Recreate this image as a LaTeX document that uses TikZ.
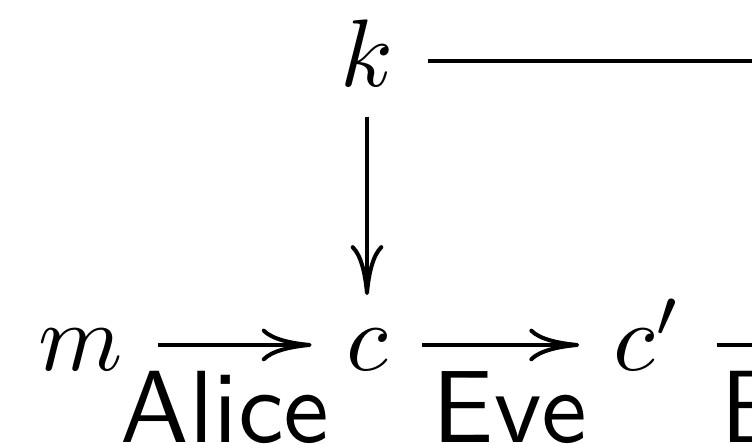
\documentclass[tikz,border=0pt]{standalone}
\usetikzlibrary{arrows.meta}
\tikzset{
  map/.style={line width=0.42pt, -{Computer Modern Rightarrow[length=5.2pt,width=3.4pt]}},
  bar/.style={line width=0.42pt},
  obj/.style={inner xsep=3.4pt, inner ysep=0pt, text height=6.9pt, text depth=1.5pt, font=\fontsize{10.4}{12}\selectfont},
  lbl/.style={anchor=base, inner sep=0pt, font=\fontsize{10.7}{12}\selectfont\sffamily},
}
\begin{document}
\begin{tikzpicture}[x=0.1042pt,y=-0.1042pt]
  \useasboundingbox (0,0) rectangle (752,444);
  \clip (0,0) rectangle (752,444);
  % Objects
  \node[obj] (k) at (367,61) {$k$};
  \node[obj] (m) at (81,345) {$m$};
  \node[obj] (c) at (367,345) {$c$};
  \node[obj] (cp) at (648,345) {$c'$};
  \coordinate (kr) at (800,61);
  \coordinate (cr) at (800,345);
  % Labels
  \node[lbl] (alice) at (225,443) {Alice};
  \node[lbl] (eve) at (510,443) {Eve};
  \node[lbl, anchor=base west] (bob) at (719,443) {B};
  % Maps
  \draw[bar] (k) -- (kr);
  \draw[map, shorten <=1.4pt, shorten >=0.8pt] (k) -- (c);
  \draw[map] (m) -- (c);
  \draw[map] (c) -- (cp);
  \draw[bar] (cp) -- (cr);
\end{tikzpicture}
\end{document}
